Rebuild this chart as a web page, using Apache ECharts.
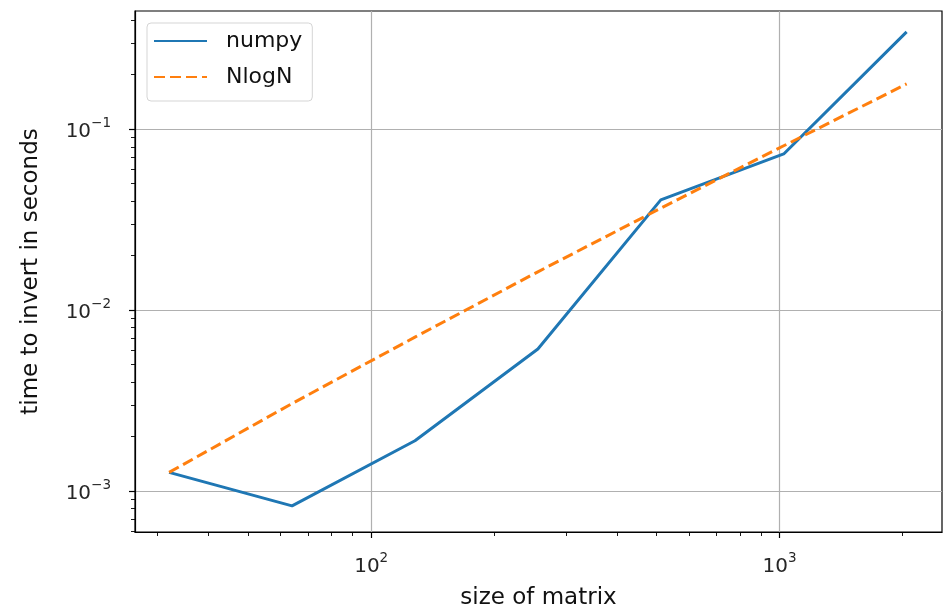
<!DOCTYPE html>
<html>
<head>
<meta charset="utf-8">
<script src="https://cdn.jsdelivr.net/npm/echarts@6/dist/echarts.min.js"></script>
<style>html,body{margin:0;padding:0;background:#fff}#c{width:950px;height:615px}</style>
</head>
<body>
<div id="c"></div>
<script>
var sizes = [32, 64, 128, 256, 512, 1024, 2048];
var numpyTimes = [0.00127, 0.00083, 0.0019, 0.0061, 0.0407, 0.073, 0.345];
var nlognTimes = [0.00127, 0.00305, 0.0071, 0.0163, 0.0366, 0.081, 0.178];
var xMajorTicks = [100, 1000];
var xMinorTicks = [30, 40, 50, 60, 70, 80, 90, 200, 300, 400, 500, 600, 700, 800, 900, 2000];
var yMajorTicks = [0.001, 0.01, 0.1];
var yMinorTicks = [0.0006, 0.0007, 0.0008, 0.0009, 0.002, 0.003, 0.004, 0.005, 0.006, 0.007, 0.008, 0.009,
                   0.02, 0.03, 0.04, 0.05, 0.06, 0.07, 0.08, 0.09, 0.2, 0.3, 0.4];
var xLabel = 'size of matrix';
var yLabel = 'time to invert in seconds';
var seriesNames = ['numpy', 'NlogN'];

var font = 'DejaVu Sans';
var xMin = 26.4, xMax = 2500, yMin = 0.000595, yMax = 0.45;

function pow10Label(v) {
  var e = Math.round(Math.log10(v));
  var s = String(e).replace('-', '\u2212');
  return '{base|10}{sup|' + s + '}';
}
var richSup = {
  base: { fontSize: 20, fontFamily: font, color: '#262626', verticalAlign: 'bottom', lineHeight: 26 },
  sup: { fontSize: 13.5, fontFamily: font, color: '#262626', verticalAlign: 'top', lineHeight: 14 }
};

function pairs(ys) { return sizes.map(function (x, i) { return [x, ys[i]]; }); }

var chart = echarts.init(document.getElementById('c'));
chart.setOption({
  animation: false,
  backgroundColor: '#fff',
  grid: { left: 135, right: 8, top: 11, bottom: 81, show: true, borderColor: '#000', borderWidth: 1.2, backgroundColor: 'transparent' },
  legend: {
    orient: 'vertical', left: 147, top: 23,
    data: seriesNames,
    itemWidth: 53, itemHeight: 14, itemGap: 10,
    padding: [5, 10, 11, 6],
    borderColor: '#d5d5d5', borderWidth: 1, borderRadius: 4,
    backgroundColor: 'rgba(255,255,255,0.8)',
    itemStyle: { opacity: 0 },
    textStyle: { fontFamily: font, fontSize: 22, lineHeight: 26, color: '#111', padding: [0, 0, 0, 14] }
  },
  xAxis: [{
    type: 'log', logBase: 10, min: xMin, max: xMax,
    name: xLabel, nameLocation: 'middle', nameGap: 55,
    nameTextStyle: { fontFamily: font, fontSize: 23, color: '#111' },
    axisLine: { show: true, lineStyle: { color: '#000', width: 1.2 } },
    axisTick: { show: true, length: 6, lineStyle: { color: '#000', width: 1.2 }, customValues: xMajorTicks },
    axisLabel: { customValues: xMajorTicks, formatter: pow10Label, fontFamily: font, fontSize: 20, color: '#262626', margin: 19, rich: richSup },
    splitLine: { show: true, lineStyle: { color: '#b0b0b0', width: 1.2 } }
  }, {
    type: 'log', logBase: 10, min: xMin, max: xMax, position: 'bottom',
    axisLine: { show: false },
    axisTick: { show: true, length: 4, lineStyle: { color: '#000', width: 0.9 }, customValues: xMinorTicks },
    axisLabel: { show: false },
    splitLine: { show: false }
  }],
  yAxis: [{
    type: 'log', logBase: 10, min: yMin, max: yMax,
    name: yLabel, nameLocation: 'middle', nameGap: 92,
    nameTextStyle: { fontFamily: font, fontSize: 23, color: '#111' },
    axisLine: { show: true, lineStyle: { color: '#000', width: 1.2 } },
    axisTick: { show: true, length: 6, lineStyle: { color: '#000', width: 1.2 }, customValues: yMajorTicks },
    axisLabel: { customValues: yMajorTicks, formatter: pow10Label, fontFamily: font, fontSize: 20, color: '#262626', margin: 24, rich: richSup },
    splitLine: { show: true, lineStyle: { color: '#b0b0b0', width: 1.2 } }
  }, {
    type: 'log', logBase: 10, min: yMin, max: yMax, position: 'left',
    axisLine: { show: false },
    axisTick: { show: true, length: 4, lineStyle: { color: '#000', width: 0.9 }, customValues: yMinorTicks },
    axisLabel: { show: false },
    splitLine: { show: false }
  }],
  series: [{
    name: seriesNames[0], type: 'line', data: pairs(numpyTimes),
    symbol: 'none', color: '#1f77b4',
    lineStyle: { color: '#1f77b4', width: 3 }
  }, {
    name: seriesNames[1], type: 'line', data: pairs(nlognTimes),
    symbol: 'none', color: '#ff7f0e',
    lineStyle: { color: '#ff7f0e', width: 3, type: [11, 5] }
  }]
});
</script>
</body>
</html>
